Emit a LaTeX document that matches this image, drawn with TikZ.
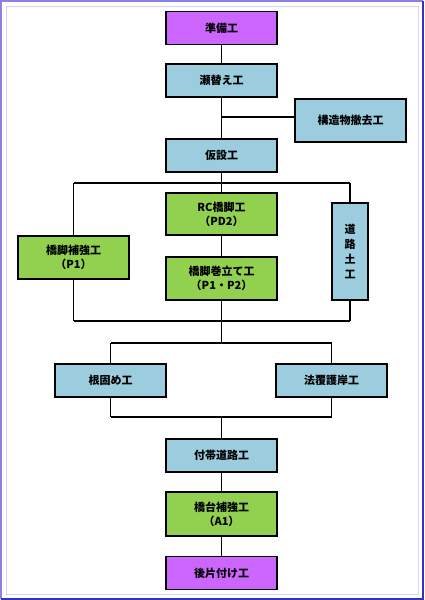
\documentclass[tikz,border=0pt]{standalone}
\usepackage{fontspec}
\setmainfont{Noto Sans CJK JP}
\begin{document}
\begin{tikzpicture}[x=1pt,y=-1pt,
  box/.style={draw=black,line width=1.4pt,minimum width=111pt,minimum height=#1,inner sep=0pt,font=\fontsize{11}{14}\selectfont\bfseries,align=center},
  box/.default=33pt,
  purp/.style={fill=violet!55!magenta!60!white},
  blu/.style={fill={rgb,255:red,155;green,205;blue,222}},
  grn/.style={fill={rgb,255:red,146;green,208;blue,80}},
  conn/.style={draw=black,line width=1.4pt}]
\definecolor{purpc}{RGB}{204,102,255}
\useasboundingbox (0,0) rectangle (424,600);
\fill[white] (0,0) rectangle (424,600);
% frame
\draw[line width=2pt,draw={rgb,255:red,140;green,130;blue,230}] (1,599) -- (1,1) -- (423,1);
\draw[line width=2pt,draw={rgb,255:red,50;green,50;blue,200}] (1,599) -- (423,599) -- (423,1);
\draw[line width=0.8pt,draw={rgb,255:red,215;green,210;blue,245}] (6,6) rectangle (418,594);
% nodes
\node[box,fill=purpc] (prep) at (221.5,28) {準備工};
\node[box,blu] (sega) at (221.5,80.5) {瀬替え工};
\node[box=43pt,blu] (kozo) at (350.5,120.5) {構造物撤去工};
\node[box,blu] (kasetsu) at (221.5,155.5) {仮設工};
\node[box=42pt,grn] (rc) at (221.5,214) {RC橋脚工\\（PD2）};
\node[box=43pt,grn] (hokyo) at (73.5,257.5) {橋脚補強工\\（P1）};
\node[box=43pt,grn] (maki) at (221.5,278.5) {橋脚巻立て工\\（P1・P2）};
\node[box=97pt,blu,minimum width=36pt,font=\fontsize{11}{15}\selectfont\bfseries] (doro) at (350,251.5) {道\\路\\土\\工};
\node[box,blu] (nega) at (110.5,380.5) {根固め工};
\node[box,blu] (nori) at (331.5,380.5) {法覆護岸工};
\node[box,blu] (futai) at (221.5,455.5) {付帯道路工};
\node[box=44pt,grn] (kyodai) at (221.5,514) {橋台補強工\\（A1）};
\node[box,fill=purpc] (ato) at (221.5,573) {後片付け工};
% coordinates
\coordinate (j1) at (221.5,117);
\coordinate (tl) at (73.5,183);
\coordinate (tc) at (221.5,183);
\coordinate (tr) at (350,183);
\coordinate (bl) at (73.5,321);
\coordinate (bc) at (221.5,321);
\coordinate (br) at (350,321);
\coordinate (ml) at (110.5,343);
\coordinate (mc) at (221.5,343);
\coordinate (mr) at (331.5,343);
\coordinate (ll) at (110.5,417);
\coordinate (lc) at (221.5,417);
\coordinate (lr) at (331.5,417);
% connectors
\begin{scope}[on background layer/.style={}]
\draw[conn] (prep) -- (sega);
\draw[conn] (sega) -- (kasetsu);
\draw[conn] (j1) -- (kozo.west|-j1);
\draw[conn] (kasetsu) -- (tc);
\draw[conn] (tl) -- (tr);
\draw[conn] (tc) -- (rc);
\draw[conn] (rc) -- (maki);
\draw[conn] (maki) -- (bc);
\draw[conn] (tl) -- (hokyo);
\draw[conn] (hokyo) -- (bl);
\draw[conn] (tr) -- (doro);
\draw[conn] (doro) -- (br);
\draw[conn] (bl) -- (br);
\draw[conn] (bc) -- (mc);
\draw[conn] (ml) -- (mr);
\draw[conn] (ml) -- (nega);
\draw[conn] (mr) -- (nori);
\draw[conn] (nega) -- (ll);
\draw[conn] (nori) -- (lr);
\draw[conn] (ll) -- (lr);
\draw[conn] (lc) -- (futai);
\draw[conn] (futai) -- (kyodai);
\draw[conn] (kyodai) -- (ato);
\end{scope}
\end{tikzpicture}
\end{document}
